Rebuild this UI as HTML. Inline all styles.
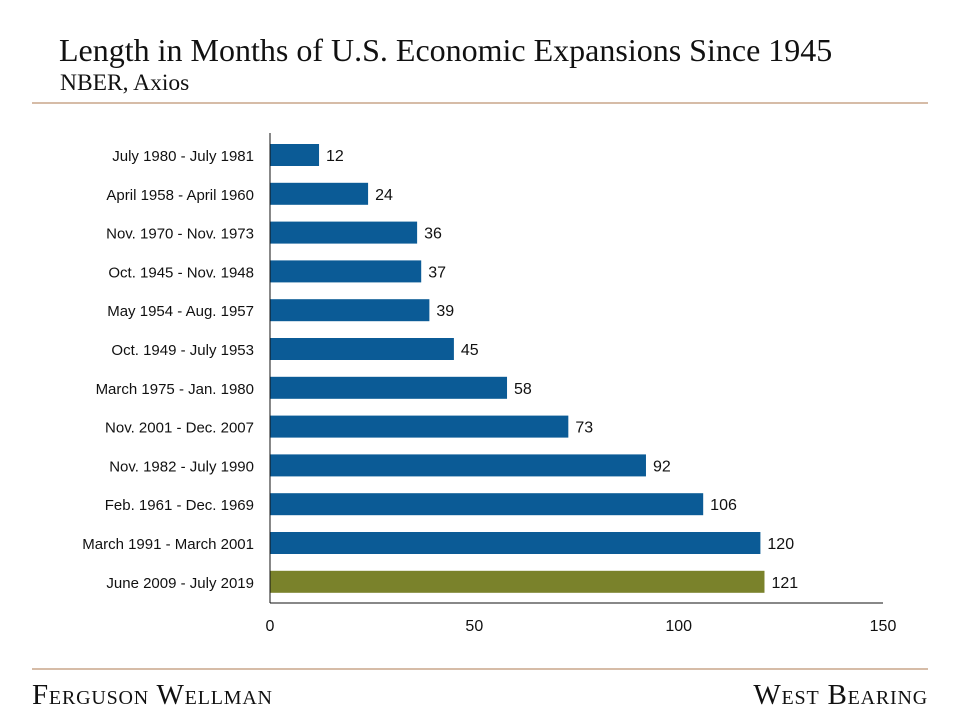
<!DOCTYPE html>
<html><head><meta charset="utf-8"><style>
body{margin:0;background:#fff;width:960px;height:720px;overflow:hidden;font-family:"Liberation Serif",serif}
svg text{font-family:"Liberation Sans",sans-serif}
</style></head><body>
<svg width="960" height="720">
<text x="59" y="61" font-size="32" fill="#111" style="font-family:'Liberation Serif',serif">Length in Months of U.S. Economic Expansions Since 1945</text>
<text x="60" y="90" font-size="23.5" fill="#111" style="font-family:'Liberation Serif',serif">NBER, Axios</text>
<line x1="32" y1="103" x2="928" y2="103" stroke="#c9a58a" stroke-width="1.5"/>
<line x1="32" y1="669" x2="928" y2="669" stroke="#c9a58a" stroke-width="1.5"/>
<text x="32" y="704" font-size="29" fill="#111" style="font-family:'Liberation Serif',serif;font-variant:small-caps;letter-spacing:0.8px">Ferguson Wellman</text>
<text x="928" y="704" font-size="29" fill="#111" text-anchor="end" style="font-family:'Liberation Serif',serif;font-variant:small-caps;letter-spacing:0.8px">West Bearing</text>
<g id="plot"></g>
</svg>
<script>
const categories=["July 1980 - July 1981","April 1958 - April 1960","Nov. 1970 - Nov. 1973","Oct. 1945 - Nov. 1948","May 1954 - Aug. 1957","Oct. 1949 - July 1953","March 1975 - Jan. 1980","Nov. 2001 - Dec. 2007","Nov. 1982 - July 1990","Feb. 1961 - Dec. 1969","March 1991 - March 2001","June 2009 - July 2019"];
const values=[12,24,36,37,39,45,58,73,92,106,120,121];
const ticks=[0,50,100,150];
const NS="http://www.w3.org/2000/svg";
const g=document.getElementById('plot');
const x0=270,x1=883,xMax=150,yTop=135,step=38.8,bh=22;
const xs=v=>x0+v/xMax*(x1-x0);
const yc=i=>yTop+20+i*step;
function mk(t,a){const e=document.createElementNS(NS,t);for(const k in a)e.setAttribute(k,a[k]);g.appendChild(e);return e;}
categories.forEach((c,i)=>{
 const last=i===categories.length-1;
 const r=mk('rect',{x:x0,y:yc(i)-bh/2,width:xs(values[i])-x0,height:bh,fill:last?'#7a822b':'#0b5b96'});
 
 
 const l=mk('text',{x:xs(values[i])+7,y:yc(i)+6,'font-size':16,fill:'#111'});
 l.textContent=values[i];
 
 
 const cl=mk('text',{x:254,y:yc(i)+6,'font-size':15,fill:'#111','text-anchor':'end'});
 cl.textContent=c;
 
 
});
const ya=mk('line',{x1:x0,y1:133,x2:x0,y2:603,stroke:'#111','stroke-width':1});


const xa=mk('line',{x1:x0,y1:603,x2:x1,y2:603,stroke:'#111','stroke-width':1});


ticks.forEach(t=>{
 const e=mk('text',{x:xs(t),y:631,'font-size':16,fill:'#111','text-anchor':'middle'});
 e.textContent=t;
 
 
});
</script>
</body></html>
